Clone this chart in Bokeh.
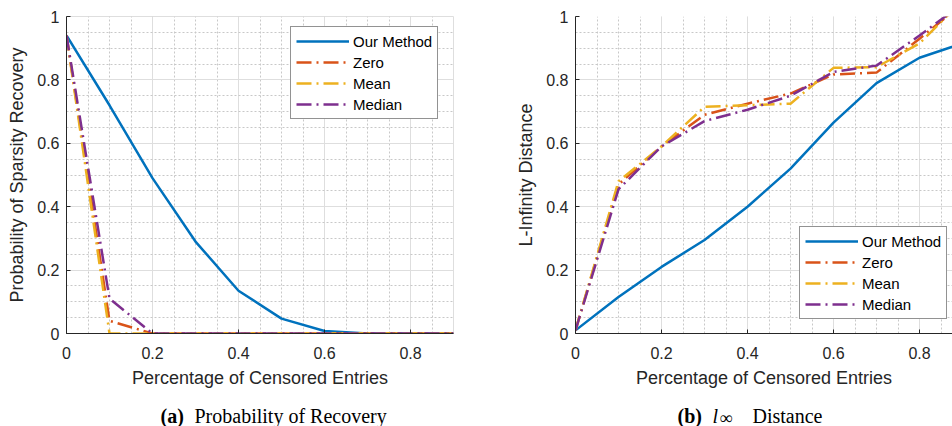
from bokeh.plotting import figure
from bokeh.models import (Range1d, SingleIntervalTicker, CustomJSTickFormatter,
                          Legend, LegendItem)
from bokeh.layouts import column, row
from bokeh.core.properties import value
from bokeh.embed import file_html
from bokeh.resources import INLINE

# ---------------- data ----------------
censored = [0.0, 0.1, 0.2, 0.3, 0.4, 0.5, 0.6, 0.7, 0.8, 0.9]

# (a) probability of sparsity recovery
rec_our = [0.94, 0.72, 0.49, 0.29, 0.135, 0.047, 0.008, 0.0, 0.0, 0.0]
rec_zero = [0.94, 0.04, 0.0, 0.0, 0.0, 0.0, 0.0, 0.0, 0.0, 0.0]
rec_mean = [0.94, 0.0, 0.0, 0.0, 0.0, 0.0, 0.0, 0.0, 0.0, 0.0]
rec_median = [0.94, 0.11, 0.0, 0.0, 0.0, 0.0, 0.0, 0.0, 0.0, 0.0]

# (b) L-infinity distance
dist_our = [0.01, 0.115, 0.21, 0.295, 0.40, 0.52, 0.665, 0.79, 0.87, 0.915]
dist_zero = [0.01, 0.47, 0.59, 0.69, 0.725, 0.757, 0.817, 0.823, 0.93, 1.04]
dist_mean = [0.01, 0.48, 0.59, 0.715, 0.72, 0.725, 0.838, 0.84, 0.915, 1.05]
dist_median = [0.01, 0.455, 0.59, 0.67, 0.706, 0.75, 0.825, 0.845, 0.94, 1.04]

series_names = ["Our Method", "Zero", "Mean", "Median"]
series_colors = ["#0072BD", "#D95319", "#EDB120", "#7E2F8E"]

x_label = "Percentage of Censored Entries"
y_label_a = "Probability of Sparsity Recovery"
y_label_b = "L-Infinity Distance"

FONT = "Liberation Sans"
TXT = "#262626"


def make_plot(width, left_border, right_border, x_end, ylabel, ys, legend_loc, outline):
    p = figure(width=width, height=390,
               x_range=Range1d(0, x_end), y_range=Range1d(0, 1),
               output_backend="svg", toolbar_location=None,
               min_border_left=left_border, min_border_right=right_border,
               min_border_top=16, min_border_bottom=57)
    p.background_fill_color = "white"
    p.border_fill_color = "white"
    p.outline_line_color = "#dedede" if outline else None

    fmt = CustomJSTickFormatter(code="return (Math.round(tick*10)/10).toString();")
    for ax, grid in ((p.xaxis[0], p.xgrid[0]), (p.yaxis[0], p.ygrid[0])):
        t = SingleIntervalTicker(interval=0.2, num_minor_ticks=4)
        ax.ticker = t
        grid.ticker = t
        ax.formatter = fmt
        ax.axis_line_color = TXT
        ax.axis_line_width = 1
        ax.major_tick_line_color = TXT
        ax.major_tick_in = 4
        ax.major_tick_out = 0
        ax.minor_tick_in = 0
        ax.minor_tick_out = 0
        ax.major_label_text_font = FONT
        ax.major_label_text_font_size = "16px"
        ax.major_label_text_color = TXT
        ax.axis_label_text_font = FONT
        ax.axis_label_text_font_size = "18px"
        ax.axis_label_text_font_style = "normal"
        ax.axis_label_text_color = TXT
        grid.grid_line_color = "#dedede"
        grid.grid_line_width = 1
        grid.minor_grid_line_color = "#c8c8c8"
        grid.minor_grid_line_dash = "2 2"
        grid.minor_grid_line_width = 1

    p.xaxis.axis_label = x_label
    p.yaxis.axis_label = ylabel
    p.xaxis.major_label_standoff = 13
    p.xaxis.axis_label_standoff = 6
    p.yaxis.major_label_standoff = 7
    p.yaxis.axis_label_standoff = 7

    items = []
    for i, (name, col, yv) in enumerate(zip(series_names, series_colors, ys)):
        if i == 0:
            r = p.line(censored, yv, line_color=col, line_width=2.5)
        else:
            r = p.line(censored, yv, line_color=col, line_width=2.5,
                       line_dash="15 5 2 5")
        items.append(LegendItem(label=name, renderers=[r]))

    leg = Legend(items=items, location=legend_loc)
    leg.border_line_color = TXT
    leg.border_line_width = 1
    leg.background_fill_color = "white"
    leg.background_fill_alpha = 1.0
    leg.label_text_font = FONT
    leg.label_text_font_size = "15px"
    leg.label_text_color = "#000000"
    leg.glyph_width = 53
    leg.glyph_height = 18
    leg.label_height = 18
    leg.spacing = 3
    leg.padding = 5
    leg.margin = 0
    leg.label_standoff = 4
    p.add_layout(leg)
    return p


p1 = make_plot(476, 66, 23, 0.9, y_label_a,
               [rec_our, rec_zero, rec_mean, rec_median], (224, 214), True)
p2 = make_plot(476, 99, 0, 0.8767, y_label_b,
               [dist_our, dist_zero, dist_mean, dist_median], (224, 14), False)

# caption strip
cap = figure(width=952, height=36, x_range=Range1d(0, 952), y_range=Range1d(0, 36),
             output_backend="svg", toolbar_location=None,
             x_axis_type=None, y_axis_type=None, min_border=0)
cap.outline_line_color = None
cap.grid.visible = False
SERIF = value("Liberation Serif")
cap.text(x=[160, 677], y=[11, 11], text=["(a)", "(b)"], text_font=SERIF,
         text_font_size="20px", text_font_style="bold",
         text_baseline="alphabetic", text_align="left", text_color="#000000")
cap.text(x=[194, 752], y=[11, 11], text=["Probability of Recovery", "Distance"],
         text_font=SERIF, text_font_size="20px", text_font_style="normal",
         text_baseline="alphabetic", text_align="left", text_color="#000000")
cap.text(x=[712], y=[11], text=["l"], text_font=SERIF, text_font_size="20px",
         text_font_style="italic", text_baseline="alphabetic", text_align="left",
         text_color="#000000")
cap.text(x=[719], y=[9], text=["\u221e"], text_font=SERIF, text_font_size="18px",
         text_baseline="alphabetic", text_align="left", text_color="#000000")

layout = column(row(p1, p2), cap)
open("out.html", "w").write(file_html(layout, INLINE))
